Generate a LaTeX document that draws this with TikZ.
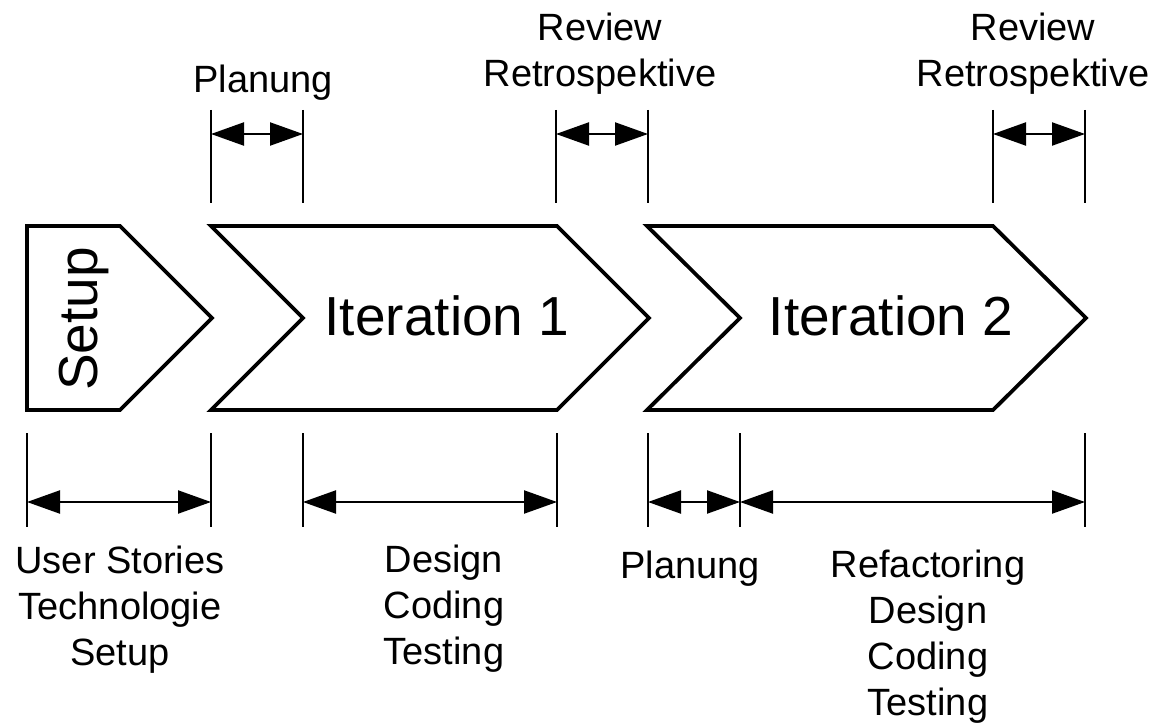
\documentclass[tikz,border=0pt]{standalone}
\usepackage{fontspec}
\setmainfont{Liberation Sans}
\usetikzlibrary{arrows.meta}
\begin{document}
\begin{tikzpicture}[x=1pt,y=-1pt,
  chev/.style={draw=black,line width=3.8pt,line join=miter},
  tick/.style={draw=black,line width=2.6pt},
  dim/.style={draw=black,line width=2.2pt,{Triangle[length=33pt,width=23pt]}-{Triangle[length=33pt,width=23pt]}},
  lbl/.style={font=\fontsize{38}{46}\selectfont,align=center,inner sep=0pt,anchor=north},
  big/.style={font=\fontsize{55}{66}\selectfont,inner sep=0pt,anchor=base}]
\useasboundingbox (0,0) rectangle (1155,722);

% chevrons
\draw[chev] (27,226) -- (120,226) -- (212,318) -- (120,410) -- (27,410) -- cycle;
\draw[chev] (211,226) -- (557,226) -- (649,318) -- (557,410) -- (211,410) -- (303,318) -- cycle;
\draw[chev] (647,226) -- (993,226) -- (1086,318) -- (993,410) -- (647,410) -- (740,318) -- cycle;

\node[big,rotate=90] (setup) at (97,319) {Setup};
\node[big] (it1) at (447,335) {Iteration 1};
\node[big] (it2) at (891,335) {Iteration 2};

% top dimension marks
\coordinate (ta) at (211,134);
\coordinate (tb) at (303,134);
\coordinate (tc) at (556,134);
\coordinate (td) at (648,134);
\coordinate (te) at (993,134);
\coordinate (tf) at (1085,134);
\foreach \c in {ta,tb,tc,td,te,tf}{\draw[tick] (\c) ++(0,-24) -- ++(0,93);}
\draw[dim] (ta) -- (tb);
\draw[dim] (tc) -- (td);
\draw[dim] (te) -- (tf);

% bottom dimension marks
\coordinate (ba) at (27,502);
\coordinate (bb) at (211,502);
\coordinate (bc) at (303,502);
\coordinate (bd) at (557,502);
\coordinate (be) at (648,502);
\coordinate (bf) at (740,502);
\coordinate (bg) at (1085,502);
\foreach \c in {ba,bb,bc,bd,be,bf,bg}{\draw[tick] (\c) ++(0,-69) -- ++(0,94);}
\draw[dim] (ba) -- (bb);
\draw[dim] (bc) -- (bd);
\draw[dim] (be) -- (bf);
\draw[dim] (bf) -- (bg);

% labels
\node[lbl] (plan1) at (263,65) {Planung};
\node[lbl] (rev1) at (600,13) {Review\\Retrospektive};
\node[lbl] (rev2) at (1033,13) {Review\\Retrospektive};
\node[lbl] (us) at (120,546) {User Stories\\Technologie\\Setup};
\node[lbl] (dct) at (444,545) {Design\\Coding\\Testing};
\node[lbl] (plan2) at (690,551) {Planung};
\node[lbl] (rdct) at (928,550) {Refactoring\\Design\\Coding\\Testing};
\end{tikzpicture}
\end{document}
